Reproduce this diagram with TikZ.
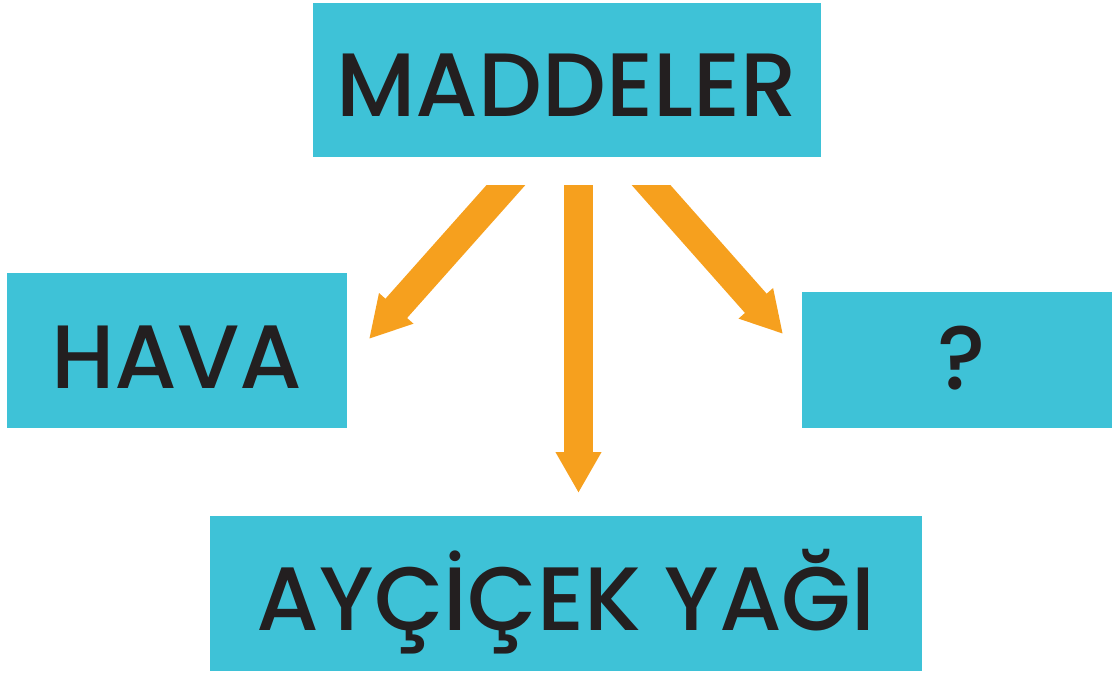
\documentclass[tikz,border=0pt]{standalone}
\usepackage{fontspec}
\setmainfont{Poppins Medium}
\usetikzlibrary{arrows.meta}
\definecolor{boxcyan}{HTML}{3EC2D7}
\definecolor{arroworange}{HTML}{F6A01E}
\definecolor{txt}{HTML}{231F20}
\tikzset{
  box/.style={fill=boxcyan, draw=none, rectangle, inner sep=0pt, text=txt,
    text depth=0pt, font=\fontsize{90}{92}\selectfont},
  bigarrow/.style={draw=arroworange, line width=29pt, line cap=butt,
    -{Triangle[width=43pt,length=41pt]}, shorten <=-30pt}
}
\begin{document}
\begin{tikzpicture}[x=1pt,y=1pt]
\useasboundingbox (0,0) rectangle (1114,-677);
\node[box, minimum width=508pt, minimum height=154pt, text height=72pt] (mad) at (567,-80) {MADDELER};
\node[box, minimum width=340pt, minimum height=155pt, text height=75pt] (hava) at (177,-350.5) {HAVA};
\node[box, minimum width=310pt, minimum height=136pt, text height=58pt] (q) at (957,-360) {\hspace*{10pt}?};
\node[box, minimum width=712pt, minimum height=155pt, text height=73pt] (ayc) at (566,-593.5) {AYÇİÇEK YAĞI};
\coordinate (sl) at (506,-185);
\coordinate (sm) at (578.5,-185);
\coordinate (sr) at (651,-185);
\coordinate (el) at (369,-339);
\coordinate (em) at (578.5,-493);
\coordinate (er) at (783,-334);
\begin{scope}
\clip (0,-185) rectangle (1114,-677);
\draw[bigarrow] (sl) -- (el);
\draw[bigarrow] (sm) -- (em);
\draw[bigarrow] (sr) -- (er);
\end{scope}
\end{tikzpicture}
\end{document}
